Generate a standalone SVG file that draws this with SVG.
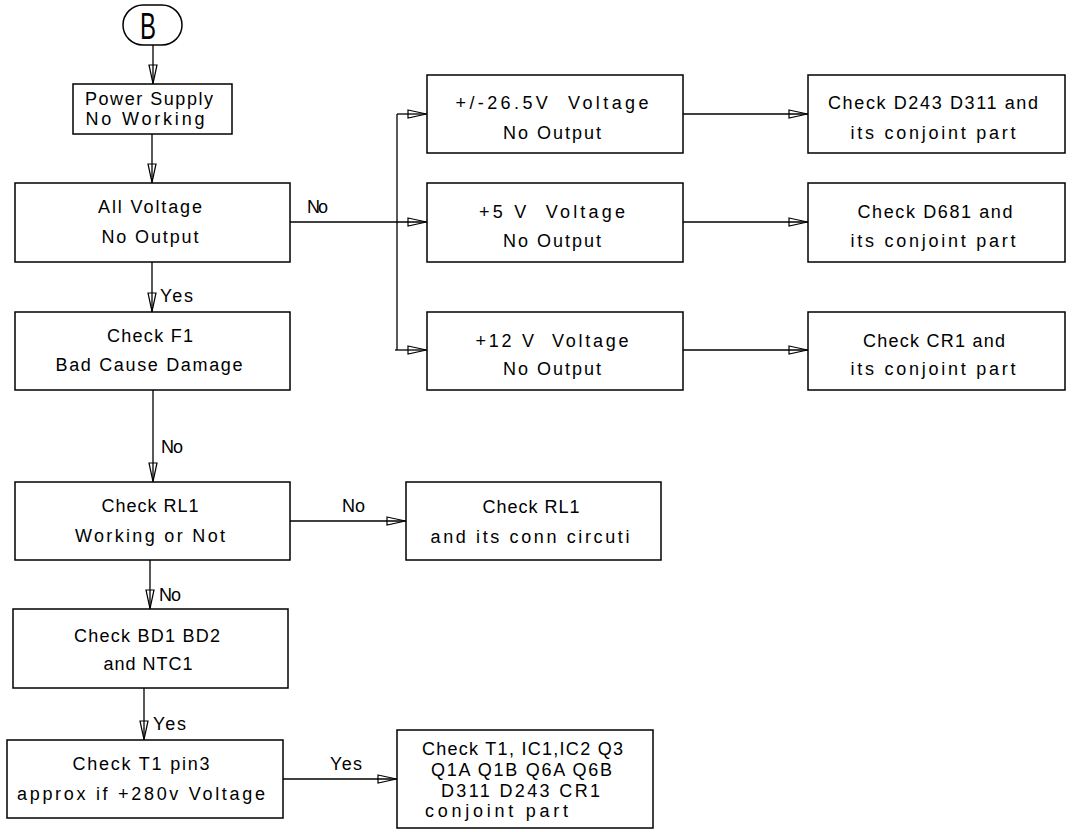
<svg xmlns="http://www.w3.org/2000/svg" width="1081" height="832" viewBox="0 0 1081 832">
<style>
  .box { fill: #fff; stroke: #000; stroke-width: 1.5; }
  .t { font-family: "Liberation Sans", Arial, sans-serif; font-size: 18px; fill: #000; text-anchor: middle; white-space: pre; }
  .lbl { font-family: "Liberation Sans", Arial, sans-serif; font-size: 18px; fill: #000; white-space: pre; }
  .c { fill: none; stroke: #000; stroke-width: 1.3; }
</style>
<defs>
  <marker id="arr" viewBox="0 0 20 10" refX="20" refY="5" markerWidth="20" markerHeight="10" markerUnits="userSpaceOnUse" orient="auto">
    <path d="M1,1 L19.5,5 L1,9 Z" fill="none" stroke="#000" stroke-width="1.2"/>
  </marker>
</defs>
<rect width="1081" height="832" fill="#fff"/>

<g id="connectors">
  <line class="c" x1="153" y1="45" x2="153" y2="84" marker-end="url(#arr)"/>
  <line class="c" x1="152" y1="134" x2="152" y2="183" marker-end="url(#arr)"/>
  <line class="c" x1="152" y1="262" x2="152" y2="312" marker-end="url(#arr)"/>
  <line class="c" x1="153" y1="390" x2="153" y2="482" marker-end="url(#arr)"/>
  <line class="c" x1="150" y1="560" x2="150" y2="609" marker-end="url(#arr)"/>
  <line class="c" x1="144" y1="688" x2="144" y2="740" marker-end="url(#arr)"/>
  <line class="c" x1="290" y1="222" x2="427" y2="222" marker-end="url(#arr)"/>
  <line class="c" x1="397" y1="114" x2="397" y2="350"/>
  <line class="c" x1="397" y1="114" x2="427" y2="114" marker-end="url(#arr)"/>
  <line class="c" x1="395" y1="350" x2="427" y2="350" marker-end="url(#arr)"/>
  <line class="c" x1="683" y1="114" x2="808" y2="114" marker-end="url(#arr)"/>
  <line class="c" x1="683" y1="222" x2="808" y2="222" marker-end="url(#arr)"/>
  <line class="c" x1="683" y1="350" x2="808" y2="350" marker-end="url(#arr)"/>
  <line class="c" x1="290" y1="521" x2="406" y2="521" marker-end="url(#arr)"/>
  <line class="c" x1="283" y1="779" x2="397" y2="779" marker-end="url(#arr)"/>
  <text class="lbl" x="307" y="213" textLength="21" lengthAdjust="spacing">No</text>
  <text class="lbl" x="160" y="302" textLength="33" lengthAdjust="spacing">Yes</text>
  <text class="lbl" x="161" y="453" textLength="22" lengthAdjust="spacing">No</text>
  <text class="lbl" x="342" y="512" textLength="23" lengthAdjust="spacing">No</text>
  <text class="lbl" x="159" y="601" textLength="22" lengthAdjust="spacing">No</text>
  <text class="lbl" x="153" y="730" textLength="33" lengthAdjust="spacing">Yes</text>
  <text class="lbl" x="330" y="770" textLength="32" lengthAdjust="spacing">Yes</text>
</g>

<g id="nodeB">
  <rect class="box" x="123" y="5" width="59" height="40" rx="20" ry="20"/>
  <text class="t" x="148" y="39" style="font-size:36px" textLength="16" lengthAdjust="spacingAndGlyphs">B</text>
</g>

<g id="nodePS">
  <rect class="box" x="73" y="84" width="159" height="50"/>
  <text class="t" x="149" y="105" textLength="128" lengthAdjust="spacing">Power Supply</text>
  <text class="t" x="145" y="125" textLength="119" lengthAdjust="spacing">No Working</text>
</g>

<g id="nodeAV">
  <rect class="box" x="15" y="183" width="275" height="79"/>
  <text class="t" x="150" y="213" textLength="104" lengthAdjust="spacing">All Voltage</text>
  <text class="t" x="150" y="243" textLength="97" lengthAdjust="spacing">No Output</text>
</g>

<g id="nodeF1">
  <rect class="box" x="15" y="312" width="275" height="78"/>
  <text class="t" x="150" y="342" textLength="86" lengthAdjust="spacing">Check F1</text>
  <text class="t" x="149" y="371" textLength="187" lengthAdjust="spacing">Bad Cause Damage</text>
</g>

<g id="nodeRL1">
  <rect class="box" x="15" y="482" width="275" height="78"/>
  <text class="t" x="150" y="512" textLength="97" lengthAdjust="spacing">Check RL1</text>
  <text class="t" x="150" y="542" textLength="150" lengthAdjust="spacing">Working or Not</text>
</g>

<g id="nodeRL1c">
  <rect class="box" x="406" y="482" width="255" height="78"/>
  <text class="t" x="531" y="513" textLength="97" lengthAdjust="spacing">Check RL1</text>
  <text class="t" x="530" y="543" textLength="199" lengthAdjust="spacing">and its conn circuti</text>
</g>

<g id="nodeBD">
  <rect class="box" x="13" y="609" width="275" height="79"/>
  <text class="t" x="147" y="642" textLength="146" lengthAdjust="spacing">Check BD1 BD2</text>
  <text class="t" x="148" y="670" textLength="89" lengthAdjust="spacing">and NTC1</text>
</g>

<g id="nodeT1">
  <rect class="box" x="7" y="740" width="276" height="78"/>
  <text class="t" x="141" y="770" textLength="137" lengthAdjust="spacing">Check T1 pin3</text>
  <text class="t" x="141" y="800" textLength="248" lengthAdjust="spacing">approx if +280v Voltage</text>
</g>

<g id="nodeBig">
  <rect class="box" x="397" y="730" width="256" height="98"/>
  <text class="lbl" x="422" y="755" textLength="201" lengthAdjust="spacing">Check T1, IC1,IC2 Q3</text>
  <text class="lbl" x="431" y="776" textLength="181" lengthAdjust="spacing">Q1A Q1B Q6A Q6B</text>
  <text class="lbl" x="441" y="797" textLength="159" lengthAdjust="spacing">D311 D243 CR1</text>
  <text class="lbl" x="425" y="817" textLength="143" lengthAdjust="spacing">conjoint part</text>
</g>

<g id="nodeM1">
  <rect class="box" x="427" y="75" width="256" height="78"/>
  <text class="t" x="552" y="109" textLength="193" lengthAdjust="spacing">+/-26.5V  Voltage</text>
  <text class="t" x="552" y="139" textLength="98" lengthAdjust="spacing">No Output</text>
</g>

<g id="nodeM2">
  <rect class="box" x="427" y="183" width="256" height="79"/>
  <text class="t" x="552" y="218" textLength="146" lengthAdjust="spacing">+5 V  Voltage</text>
  <text class="t" x="552" y="247" textLength="98" lengthAdjust="spacing">No Output</text>
</g>

<g id="nodeM3">
  <rect class="box" x="427" y="312" width="256" height="78"/>
  <text class="t" x="552" y="347" textLength="153" lengthAdjust="spacing">+12 V  Voltage</text>
  <text class="t" x="552" y="375" textLength="98" lengthAdjust="spacing">No Output</text>
</g>

<g id="nodeR1">
  <rect class="box" x="808" y="75" width="257" height="78"/>
  <text class="t" x="933" y="109" textLength="210" lengthAdjust="spacing">Check D243 D311 and</text>
  <text class="t" x="933" y="139" textLength="165" lengthAdjust="spacing">its conjoint part</text>
</g>

<g id="nodeR2">
  <rect class="box" x="808" y="183" width="257" height="79"/>
  <text class="t" x="935" y="218" textLength="155" lengthAdjust="spacing">Check D681 and</text>
  <text class="t" x="933" y="247" textLength="165" lengthAdjust="spacing">its conjoint part</text>
</g>

<g id="nodeR3">
  <rect class="box" x="808" y="312" width="257" height="78"/>
  <text class="t" x="934" y="347" textLength="142" lengthAdjust="spacing">Check CR1 and</text>
  <text class="t" x="933" y="375" textLength="165" lengthAdjust="spacing">its conjoint part</text>
</g>
</svg>
